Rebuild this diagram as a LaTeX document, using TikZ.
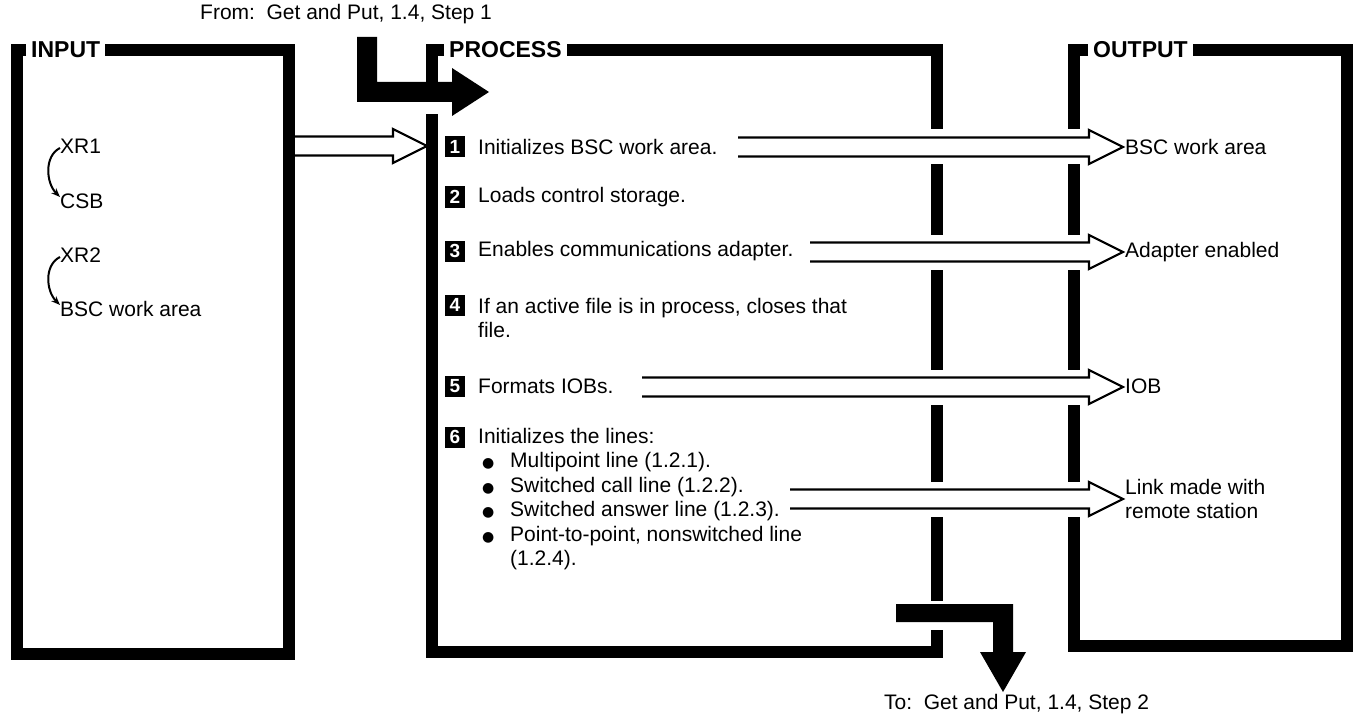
\documentclass[tikz,border=0pt]{standalone}
\usepackage{fontspec}
\setmainfont{Liberation Sans}
\newfontfamily\symfont{DejaVu Sans}
\usetikzlibrary{calc,arrows.meta}
% large round bullet for the list of line types
\newcommand\blt{{\symfont\fontsize{14}{14}\selectfont ●}}
% hollow double-line arrow: #1 = tail (sets the height), #2 = tip
\newcommand\harrow[2]{%
  \draw[halo] let \p1=(#1), \p2=(#2) in (\x1,\y1) -- (\x2-34pt,\y1);
  \draw[hollow] let \p1=(#1), \p2=(#2) in
    (\x1,\y1+9.5pt) -- (\x2-34pt,\y1+9.5pt) -- (\x2-34pt,\y1+17pt) -- (\x2,\y1)
    -- (\x2-34pt,\y1-17pt) -- (\x2-34pt,\y1-9.5pt) -- (\x1,\y1-9.5pt);
}
\begin{document}
\begin{tikzpicture}[x=1pt,y=-1pt,
  frame/.style={line width=12pt, line join=miter},
  title/.style={font=\fontsize{23}{24}\selectfont\bfseries, inner sep=0pt, anchor=west},
  body/.style={font=\fontsize{21}{24.5}\selectfont, inner sep=0pt, anchor=west, align=left},
  numbox/.style={fill=black, text=white, font=\fontsize{19}{19}\selectfont\bfseries,
    minimum width=20pt, minimum height=21pt, inner sep=0pt},
  halo/.style={draw=white, line width=35pt},
  hollow/.style={draw=black, fill=white, line width=2.2pt, line join=miter},
  flow/.style={fill=black},
  curl/.style={line width=2pt, -{Stealth[length=9pt,width=7pt]}}]
\useasboundingbox (0,0) rectangle (1359,714);

% ---- frames with their headings ----
\node[title] (hin) at (31,50) {INPUT};
\draw[frame] (26,50) -- (17,50) -- (17,654) -- (289,654) -- (289,50) -- ([xshift=5pt]hin.east);
\node[title] (hpr) at (449,50) {PROCESS};
\draw[frame] (444,50) -- (432,50) -- (432,652) -- (937,652) -- (937,50) -- ([xshift=5pt]hpr.east);
\node[title] (hout) at (1093,50) {OUTPUT};
\draw[frame] (1088,50) -- (1074,50) -- (1074,646) -- (1347,646) -- (1347,50) -- ([xshift=5pt]hout.east);

% ---- input side ----
\node[body] (xr1) at (60,146) {XR1};
\node[body] (csb) at (60,201) {CSB};
\node[body] (xr2) at (60,255) {XR2};
\node[body] (bsc) at (60,309) {BSC work area};
\draw[curl] ([yshift=-2pt]xr1.west) .. controls +(-16,8) and +(-14,-14) .. ([yshift=4pt]csb.west);
\draw[curl] ([yshift=-2pt]xr2.west) .. controls +(-16,8) and +(-14,-14) .. ([yshift=4pt]bsc.west);

% ---- process steps ----
\node[numbox] (n1) at (455,147) {1};
\node[body] (s1) at (478,147) {Initializes BSC work area.};
\node[numbox] (n2) at (455,197) {2};
\node[body] (s2) at (478,197) {Loads control storage.};
\node[numbox] (n3) at (455,251) {3};
\node[body] (s3) at (478,251) {Enables communications adapter.};
\node[numbox] (n4) at (455,305) {4};
\node[body] (s4) at (478,318) {If an active file is in process, closes that\\file.};
\node[numbox] (n5) at (455,386) {5};
\node[body] (s5) at (478,386) {Formats IOBs.};
\node[numbox] (n6) at (455,437) {6};
\node[body, anchor=north west] (s6) at (478,428) {Initializes the lines:\\
  \hspace*{4pt}\makebox[28pt][l]{\blt}Multipoint line (1.2.1).\\
  \hspace*{4pt}\makebox[28pt][l]{\blt}Switched call line (1.2.2).\\
  \hspace*{4pt}\makebox[28pt][l]{\blt}Switched answer line (1.2.3).\\
  \hspace*{4pt}\makebox[28pt][l]{\blt}Point-to-point, nonswitched line\\
  \hspace*{32pt}(1.2.4).};

% ---- output side ----
\node[body] (o1) at (1125,147) {BSC work area};
\node[body] (o3) at (1125,252) {Adapter enabled};
\node[body] (o5) at (1125,386) {IOB};
\node[body] (o6) at (1125,499) {Link made with\\remote station};

% ---- data flow arrows ----
\coordinate (ia) at (295,146);
\coordinate (pl) at (427,146);
\coordinate (t1) at (738,147);
\coordinate (t3) at (810,252);
\coordinate (t5) at (642,387);
\coordinate (t6) at (790,499);
\harrow{ia}{pl}
\harrow{t1}{[xshift=-2pt]o1.west}
\harrow{t3}{[xshift=-2pt]o3.west}
\harrow{t5}{[xshift=-2pt]o5.west}
\harrow{t6}{[xshift=-2pt]o6.west}

% ---- control flow in and out ----
\node[body] (from) at (200,14) {From:\hspace{0.55em}Get and Put, 1.4, Step 1};
\fill[white] (424,82) rectangle (440,114);
\fill[flow] (357,37) -- (377,37) -- (377,82) -- (452,82) -- (452,68) -- (489,92)
  -- (452,116) -- (452,102) -- (357,102) -- cycle;
\fill[white] (929,601) rectangle (945,630);
\fill[flow] (896,604) -- (1013,604) -- (1013,652) -- (1026,652) -- (1003,692)
  -- (980,652) -- (993,652) -- (993,622) -- (896,622) -- cycle;
\node[body] (to) at (884,704) {To:\hspace{0.55em}Get and Put, 1.4, Step 2};
\end{tikzpicture}
\end{document}
